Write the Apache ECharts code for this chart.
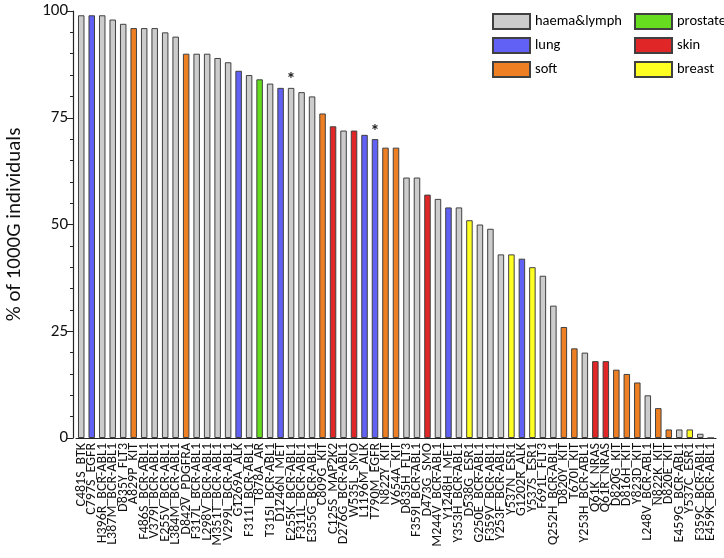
<!DOCTYPE html>
<html>
<head>
<meta charset="utf-8">
<script src="https://cdn.jsdelivr.net/npm/echarts@6/dist/echarts.min.js"></script>
<style>html,body{margin:0;padding:0;background:#fff}#c{width:724px;height:558px}</style>
</head>
<body>
<div id="c"></div>
<script>
const categories = ['C481S_BTK','C797S_EGFR','H396R_BCR-ABL1','L387M_BCR-ABL1','D835Y_FLT3','A829P_KIT','F486S_BCR-ABL1','V379I_BCR-ABL1','E255V_BCR-ABL1','L384M_BCR-ABL1','D842V_PDGFRA','F317L_BCR-ABL1','L298V_BCR-ABL1','M351T_BCR-ABL1','V299L_BCR-ABL1','G1269A_ALK','F311I_BCR-ABL1','T878A_AR','T315I_BCR-ABL1','D1246N_MET','E255K_BCR-ABL1','F311L_BCR-ABL1','E355G_BCR-ABL1','C809G_KIT','C125S_MAP2K2','D276G_BCR-ABL1','W535L_SMO','L1196M_ALK','T790M_EGFR','N822Y_KIT','V654A_KIT','D835H_FLT3','F359I_BCR-ABL1','D473G_SMO','M244V_BCR-ABL1','Y1248H_MET','Y353H_BCR-ABL1','D538G_ESR1','G250E_BCR-ABL1','F359V_BCR-ABL1','Y253F_BCR-ABL1','Y537N_ESR1','G1202R_ALK','Y537S_ESR1','F691L_FLT3','Q252H_BCR-ABL1','D820Y_KIT','T670I_KIT','Y253H_BCR-ABL1','Q61K_NRAS','Q61R_NRAS','D820G_KIT','D816H_KIT','Y823D_KIT','L248V_BCR-ABL1','N822K_KIT','D820E_KIT','E459G_BCR-ABL1','Y537C_ESR1','F359C_BCR-ABL1','E459K_BCR-ABL1'];
const values = [99,99,99,98,97,96,96,96,95,94,90,90,90,89,88,86,85,84,83,82,82,81,80,76,73,72,72,71,70,68,68,61,61,57,56,54,54,51,50,49,43,43,42,40,38,31,26,21,20,18,18,16,15,13,10,7,2,2,2,1,0];
const groups = ['haema&lymph','lung','haema&lymph','haema&lymph','haema&lymph','soft','haema&lymph','haema&lymph','haema&lymph','haema&lymph','soft','haema&lymph','haema&lymph','haema&lymph','haema&lymph','lung','haema&lymph','prostate','haema&lymph','lung','haema&lymph','haema&lymph','haema&lymph','soft','skin','haema&lymph','skin','lung','lung','soft','soft','haema&lymph','haema&lymph','skin','haema&lymph','lung','haema&lymph','breast','haema&lymph','haema&lymph','haema&lymph','breast','lung','breast','haema&lymph','haema&lymph','soft','soft','haema&lymph','skin','skin','soft','soft','soft','haema&lymph','soft','soft','haema&lymph','breast','haema&lymph','haema&lymph'];
const starred = ['E255K_BCR-ABL1','T790M_EGFR'];
const groupNames = ['haema&lymph','lung','soft','prostate','skin','breast'];
const yTicks = [0,25,50,75,100];

const groupColors = {'haema&lymph':'#cccccc','lung':'#6161f5','soft':'#ee7f22','prostate':'#66dd1e','skin':'#e02626','breast':'#ffff22'};
const FONT = 'Carlito, Lato, sans-serif';

const series = groupNames.map(g => ({
  name: g,
  type: 'bar',
  barWidth: '62%',
  barGap: '-100%',
  itemStyle: {color: groupColors[g], borderColor: '#404040', borderWidth: 1},
  emphasis: {disabled: true},
  data: values.map((v, i) => {
    if (groups[i] !== g) return null;
    const item = {value: v};
    if (starred.includes(categories[i])) {
      item.label = {show: true, position: 'top', formatter: '*', fontSize: 18, fontWeight: 'bold', color: '#222', distance: -2, fontFamily: FONT};
    }
    return item;
  })
}));

const legendCommon = {orient: 'vertical', top: 8, icon: 'rect', itemWidth: 37, itemHeight: 15, itemGap: 7,
  textStyle: {fontSize: 14.5, lineHeight: 15, color: '#000', fontFamily: FONT}, selectedMode: false};

const chart = echarts.init(document.getElementById('c'), null, {renderer: 'canvas'});
chart.setOption({
  animation: false,
  backgroundColor: '#fff',
  grid: {left: 76, right: 8, top: 11, bottom: 120, containLabel: false, outerBoundsMode: 'none'},
  legend: [
    Object.assign({data: groupNames.slice(0,3), left: 487}, legendCommon),
    Object.assign({data: groupNames.slice(3), left: 629}, legendCommon)
  ],
  xAxis: {
    type: 'category',
    data: categories,
    axisLine: {lineStyle: {color: '#222', width: 1.2}},
    axisTick: {alignWithLabel: true, length: 5, lineStyle: {color: '#222'}},
    axisLabel: {rotate: 90, interval: 0, fontSize: 14, color: '#111', fontFamily: FONT, margin: 5}
  },
  yAxis: {
    type: 'value',
    min: 0, max: 100, interval: 25,
    offset: 3,
    name: '% of 1000G individuals',
    nameLocation: 'middle',
    nameGap: 48,
    nameTextStyle: {fontSize: 21, color: '#111', fontFamily: FONT},
    axisLine: {show: true, lineStyle: {color: '#222', width: 1.2}},
    axisTick: {show: true, length: 6, lineStyle: {color: '#222'}},
    minorTick: {show: true, splitNumber: 5, length: 3, lineStyle: {color: '#222'}},
    splitLine: {show: false},
    axisLabel: {fontSize: 17, color: '#111', fontFamily: FONT, margin: 5, formatter: v => yTicks.includes(v) ? String(v) : ''}
  },
  series: series
});
</script>
</body>
</html>
